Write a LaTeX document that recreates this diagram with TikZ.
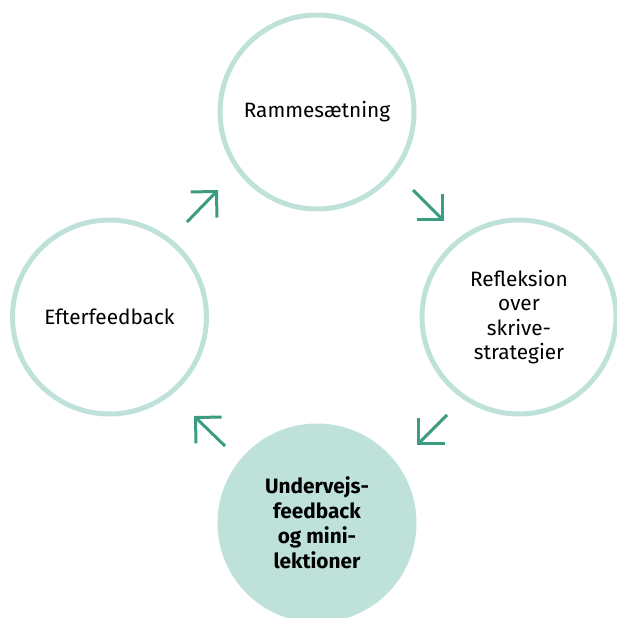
\documentclass[tikz,border=0pt]{standalone}
\usepackage{fontspec}
\setmainfont{Fira Sans}
\usetikzlibrary{arrows.meta}

\definecolor{ringgreen}{HTML}{BEE2DA}
\definecolor{arrowgreen}{HTML}{3C9C81}

\begin{document}
\begin{tikzpicture}[x=1pt, y=-1pt,
        stage/.style={circle, draw=ringgreen, line width=5pt, minimum size=194pt, inner sep=0pt,
            align=center, font=\fontsize{20.8}{24.5}\selectfont},
        stagenow/.style={stage, fill=ringgreen, font=\fontsize{20.8}{25}\selectfont\bfseries},
        turn/.style={draw=arrowgreen, line width=3pt, -{Straight Barb[angle=90:26pt]}}]
        \clip (0, 0) rectangle (617, 618);

        \node[stage] (ramme) at (317, 112) {Rammesætning};
        \node[stage] (refleksion) at (519, 317) {Refleksion\\over\\skrive-\\strategier};
        \node[stagenow] (undervejs) at (317, 523) {Undervejs-\\feedback\\og mini-\\lektioner};
        \node[stage] (efter) at (109.5, 317) {Efterfeedback};

        % arrows between the stages
        \coordinate (a1s) at (187, 222); \coordinate (a1e) at (218, 190);
        \coordinate (a2s) at (413, 190); \coordinate (a2e) at (444, 221);
        \coordinate (a3s) at (447, 415); \coordinate (a3e) at (417, 445);
        \coordinate (a4s) at (225, 446); \coordinate (a4e) at (194, 416);

        \foreach \i in {1, 2, 3, 4} {
            \draw[turn] (a\i s) -- (a\i e);
        }

    \end{tikzpicture}
\end{document}
